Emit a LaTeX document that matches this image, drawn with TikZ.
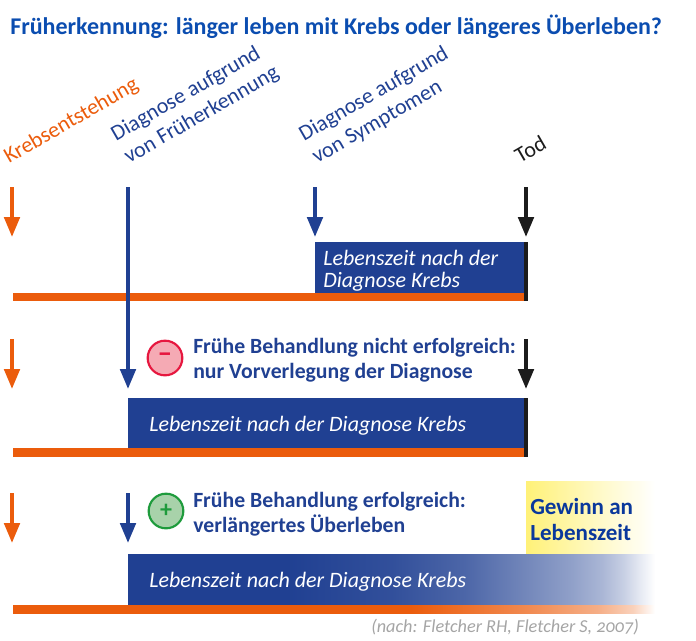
\documentclass[tikz,border=0pt]{standalone}
\usepackage{fontspec}
\usepackage{xcolor}
\usetikzlibrary{arrows.meta}
\setmainfont[Numbers=OldStyle]{Carlito}

\definecolor{titleblue}{RGB}{11,77,176}
\definecolor{barblue}{RGB}{32,64,146}
\definecolor{gainblue}{RGB}{10,56,156}
\definecolor{krebsorange}{RGB}{235,92,12}
\definecolor{todblack}{RGB}{28,28,28}
\definecolor{gainyellow}{RGB}{255,241,120}
\definecolor{sourcegrey}{RGB}{165,165,165}

\pgfdeclarehorizontalshading{barfade}{100bp}{color(0bp)=(barblue); color(40bp)=(barblue); color(50bp)=(barblue!92!white); color(57bp)=(barblue!80!white); color(63bp)=(barblue!62!white); color(67bp)=(barblue!50!white); color(70bp)=(barblue!38!white); color(72bp)=(barblue!25!white); color(73.5bp)=(barblue!12!white); color(75bp)=(white); color(100bp)=(white)}
\pgfdeclarehorizontalshading{orangefade}{100bp}{color(0bp)=(krebsorange); color(56bp)=(krebsorange); color(65bp)=(krebsorange!72!white); color(70.5bp)=(krebsorange!50!white); color(73.3bp)=(krebsorange!28!white); color(75bp)=(white); color(100bp)=(white)}
\pgfdeclarehorizontalshading{gainfade}{100bp}{color(0bp)=(gainyellow); color(25bp)=(gainyellow); color(54bp)=(gainyellow!40!white); color(70bp)=(gainyellow!10!white); color(75bp)=(white); color(100bp)=(white)}

\tikzset{
  timearrow/.style={line width=3pt,-{Triangle[length=15pt,width=11.5pt]}},
  slantlabel/.style={rotate=30,inner sep=0pt,anchor=base west,align=left,font=\fontsize{16.5}{19.5}\selectfont},
  headnote/.style={inner sep=0pt,anchor=base west,align=left,text=barblue,font=\fontsize{16.3}{18.7}\selectfont\bfseries},
  barlabel/.style={inner sep=0pt,anchor=base west,align=left,text=white,font=\fontsize{16.5}{16.5}\selectfont\itshape},
  signdot/.style={circle,minimum size=26pt,inner sep=0pt,line width=1.6pt,font=\fontsize{18}{18}\selectfont\bfseries},
}

\begin{document}
\begin{tikzpicture}[x=0.75pt,y=0.75pt,yscale=-1]
\useasboundingbox (0,0) rectangle (696,640);

% Text Node
\node [inner sep=0pt,anchor=base west,text=titleblue,font=\fontsize{18}{20}\selectfont\bfseries] (title) at (10,34) {Früherkennung: länger leben mit Krebs oder längeres Überleben?};
% Text Node
\node [slantlabel,text=krebsorange] (labkrebs) at (9,164) {Krebsentstehung};
% Text Node
\node [slantlabel,text=barblue] (labearly) at (129,164) {Diagnose aufgrund\\von Früherkennung};
% Text Node
\node [slantlabel,text=barblue] (labsymptom) at (317,164) {Diagnose aufgrund\\von Symptomen};
% Text Node
\node [slantlabel,text=todblack] (labtod) at (520,164) {Tod};

%Shape: Rectangle
\fill [barblue] (315,242) rectangle (524,293);
\fill [krebsorange] (13,293) rectangle (524,301);
\fill [todblack] (524,242) rectangle (528,301);
\fill [barblue] (128,398) rectangle (524,448);
\fill [krebsorange] (13,448) rectangle (524,457);
\fill [todblack] (524,398) rectangle (528,457);

%Shape: Rectangle, fading
\fill [shading=gainfade] (526,481) rectangle (655,554);
\fill [shading=barfade] (128,554) rectangle (655,605);
\fill [shading=orangefade] (13,605) rectangle (655,613);

% Arrow ends
\coordinate (krebsa) at (12,187); \coordinate (krebsaend) at (12,237);
\coordinate (krebsb) at (12,339); \coordinate (krebsbend) at (12,389);
\coordinate (krebsc) at (12,493); \coordinate (krebscend) at (12,543);
\coordinate (earlya) at (128,187); \coordinate (earlyaend) at (128,389);
\coordinate (earlyc) at (128,493); \coordinate (earlycend) at (128,543);
\coordinate (symptoma) at (315,187); \coordinate (symptomaend) at (315,237);
\coordinate (toda) at (526,187); \coordinate (todaend) at (526,237);
\coordinate (todb) at (526,339); \coordinate (todbend) at (526,389);

%Straight Lines
\draw [timearrow,krebsorange] (krebsa) -- (krebsaend);
\draw [timearrow,krebsorange] (krebsb) -- (krebsbend);
\draw [timearrow,krebsorange] (krebsc) -- (krebscend);
\draw [timearrow,barblue] (earlya) -- (earlyaend);
\draw [timearrow,barblue] (earlyc) -- (earlycend);
\draw [timearrow,barblue] (symptoma) -- (symptomaend);
\draw [timearrow,todblack] (toda) -- (todaend);
\draw [timearrow,todblack] (todb) -- (todbend);

%Shape: Ellipse
\node [signdot,draw={rgb,255:red,230;green,23;blue,63},fill={rgb,255:red,245;green,170;blue,180},text={rgb,255:red,230;green,23;blue,63}] (minus) at (165,358) {\raisebox{-2pt}{\fontsize{22}{22}\selectfont –}};
\node [signdot,draw={rgb,255:red,30;green,155;blue,60},fill={rgb,255:red,168;green,210;blue,170},text={rgb,255:red,30;green,155;blue,60}] (plus) at (166,511) {+};

% Text Node
\node [barlabel] (lifea) at (323,287) {Lebenszeit nach der\\Diagnose Krebs};
% Text Node
\node [barlabel] (lifeb) at (149,431) {Lebenszeit nach der Diagnose Krebs};
% Text Node
\node [barlabel] (lifec) at (149,587) {Lebenszeit nach der Diagnose Krebs};
% Text Node
\node [headnote] (notefail) at (193,378) {Frühe Behandlung nicht erfolgreich:\\nur Vorverlegung der Diagnose};
% Text Node
\node [headnote] (notegood) at (193,532) {Frühe Behandlung erfolgreich:\\verlängertes Überleben};
% Text Node
\node [inner sep=0pt,anchor=base west,align=left,text=gainblue,font=\fontsize{17.3}{19.5}\selectfont\bfseries] (gain) at (530,540) {Gewinn an\\Lebenszeit};
% Text Node
\node [inner sep=0pt,anchor=base west,text=sourcegrey,font=\fontsize{13.7}{16}\selectfont\itshape] (source) at (371,632) {(nach: Fletcher RH, Fletcher S, 2007)};

\end{tikzpicture}
\end{document}
